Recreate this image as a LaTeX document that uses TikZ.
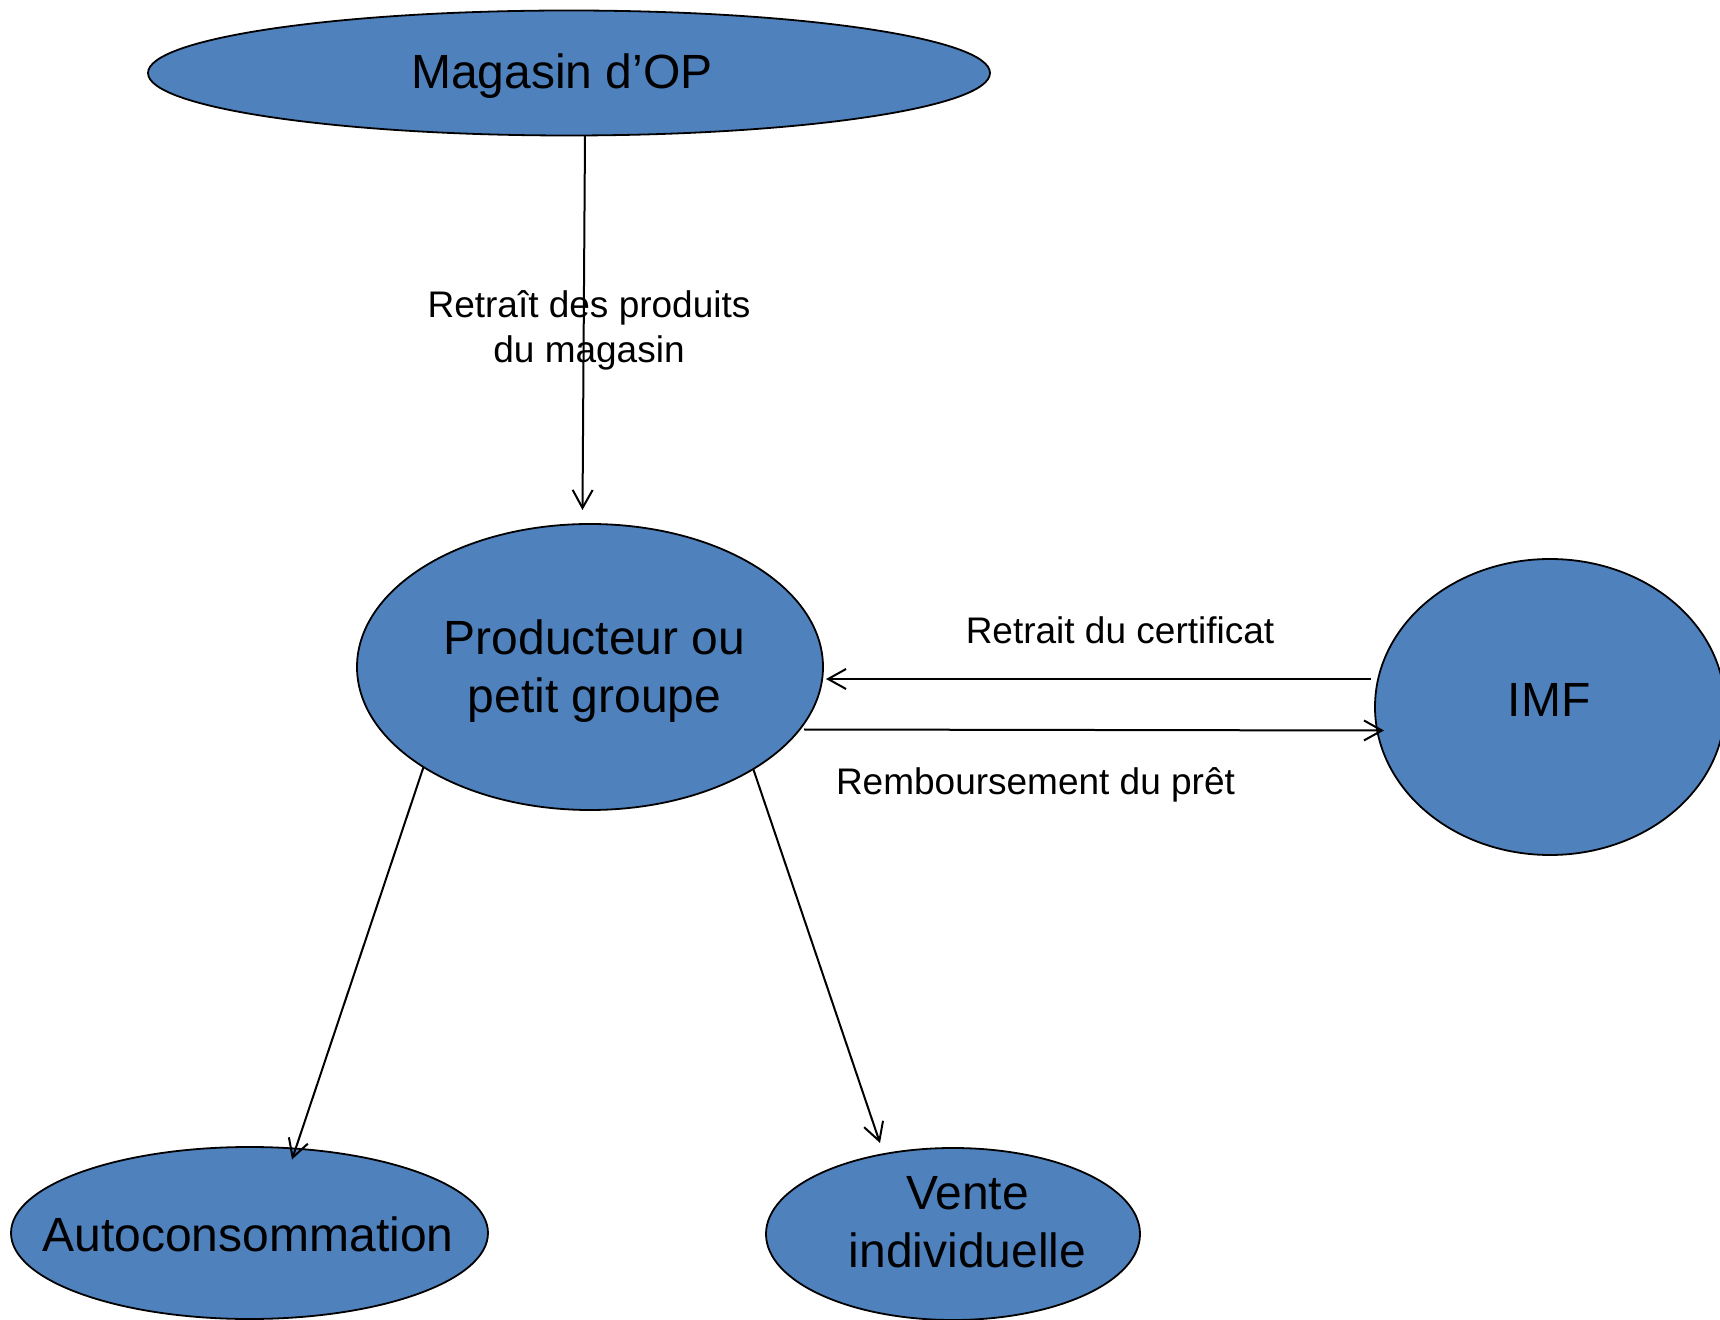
\documentclass[tikz,border=0pt]{standalone}
\usepackage{fontspec}
\setmainfont{Liberation Sans}
\usetikzlibrary{arrows.meta,shapes.geometric}
\definecolor{blobblue}{HTML}{4F81BD}
\begin{document}
\begin{tikzpicture}[x=0.5pt,y=-0.5pt,
  blob/.style={ellipse,draw=black,line width=0.9pt,fill=blobblue,inner sep=0pt,outer sep=0pt},
  bigtxt/.style={font=\fontsize{24}{29}\selectfont,align=center,inner sep=0pt},
  labtxt/.style={font=\fontsize{18.5}{22.5}\selectfont,align=center,inner sep=0pt},
  arr/.style={line width=1pt,-{Straight Barb[length=9pt,width=10pt,line width=1pt]}}]
\useasboundingbox (0,0) rectangle (1720,1320);
\fill[white] (0,0) rectangle (1720,1320);

\node[blob,minimum width=421pt,minimum height=62.5pt] (mag) at (569,73) {};
\node[blob,minimum width=233pt,minimum height=143pt] (prod) at (590,667) {};
\node[blob,minimum width=175pt,minimum height=148pt] (imf) at (1550,707) {};
\node[blob,minimum width=238.5pt,minimum height=86pt] (auto) at (249.5,1233) {};
\node[blob,minimum width=187pt,minimum height=86pt] (vente) at (953,1234) {};

\node[bigtxt] (magT) at (562,76) {Magasin d’OP};
\node[bigtxt] (prodT) at (594.5,671) {Producteur ou\\petit groupe};
\node[bigtxt] (imfT) at (1549,700) {IMF};
\node[bigtxt] (autoT) at (248,1234) {Autoconsommation};
\node[bigtxt] (venteT) at (967.5,1222) {Vente\\individuelle};

\draw[arr] ([xshift=8pt]mag.south) -- ([xshift=-3.75pt,yshift=7pt]prod.north);
\draw[arr] ([xshift=-2pt,yshift=14pt]imf.west) -- ([xshift=1.5pt,yshift=-6pt]prod.east);
\draw[arr] ([xshift=-9.5pt,yshift=-31.25pt]prod.east) -- ([xshift=4.5pt,yshift=-11.75pt]imf.west);
\draw[arr] (prod.211) -- ([xshift=21.25pt,yshift=-6.25pt]auto.north);
\draw[arr] (prod.328.5) -- ([xshift=-36.5pt,yshift=2.5pt]vente.north);

\node[labtxt] (labA) at (589,330) {Retraît des produits\\du magasin};
\node[labtxt] (labB) at (1120,630) {Retrait du certificat};
\node[labtxt] (labC) at (1035.5,785) {Remboursement du prêt};
\end{tikzpicture}
\end{document}
